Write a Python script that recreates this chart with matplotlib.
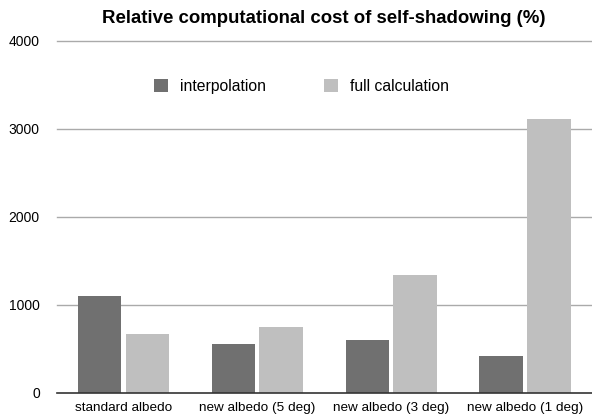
import numpy as np
import matplotlib.pyplot as plt

plt.rcParams['font.family'] = ['Liberation Sans', 'DejaVu Sans']

# data
categories = ['standard albedo', 'new albedo (5 deg)', 'new albedo (3 deg)', 'new albedo (1 deg)']
interpolation = [1100, 548, 597, 420]
full_calculation = [665, 750, 1337, 3110]

W, H = 592, 420
fig = plt.figure(figsize=(W / 100, H / 100), dpi=100)
ax = fig.add_axes([56.5 / W, (H - 392.5) / H, (W - 56.5) / W, (392.5 - 41) / H])

x = np.arange(len(categories))
bw = 0.325
off = 0.178
ax.bar(x - off, interpolation, bw, color='#707070', label='interpolation', zorder=3)
ax.bar(x + off, full_calculation, bw, color='#bfbfbf', label='full calculation', zorder=3)

ax.set_xlim(-0.5, 3.5)
ax.set_ylim(0, 4000)
ax.set_yticks([0, 1000, 2000, 3000, 4000])
ax.set_xticks(x)
ax.set_xticklabels(categories)
ax.tick_params(axis='both', length=0, colors='black')
ax.tick_params(axis='y', pad=12, labelsize=10)
ax.tick_params(axis='x', pad=7, labelsize=9.7)

for s in ['top', 'right', 'left']:
    ax.spines[s].set_visible(False)
ax.spines['bottom'].set_color('#333333')
ax.spines['bottom'].set_linewidth(1.2)
ax.spines['bottom'].set_zorder(4)

for v in [1000, 2000, 3000, 4000]:
    ax.axhline(v, color='#aaaaaa', linewidth=1.0, zorder=1, clip_on=False)

fig.text(324 / W, (H - 23.3) / H, 'Relative computational cost of self-shadowing (%)',
         ha='center', va='baseline', fontsize=13.4, fontweight='bold')

leg = fig.legend(loc='center left', bbox_to_anchor=(154 / W, (H - 86.7) / H), ncol=2,
                 frameon=False, fontsize=11.3, handlelength=0.9, handleheight=0.9,
                 handletextpad=0.75, columnspacing=3.7, borderpad=0, borderaxespad=0)

fig.savefig('out.png', dpi=100)
